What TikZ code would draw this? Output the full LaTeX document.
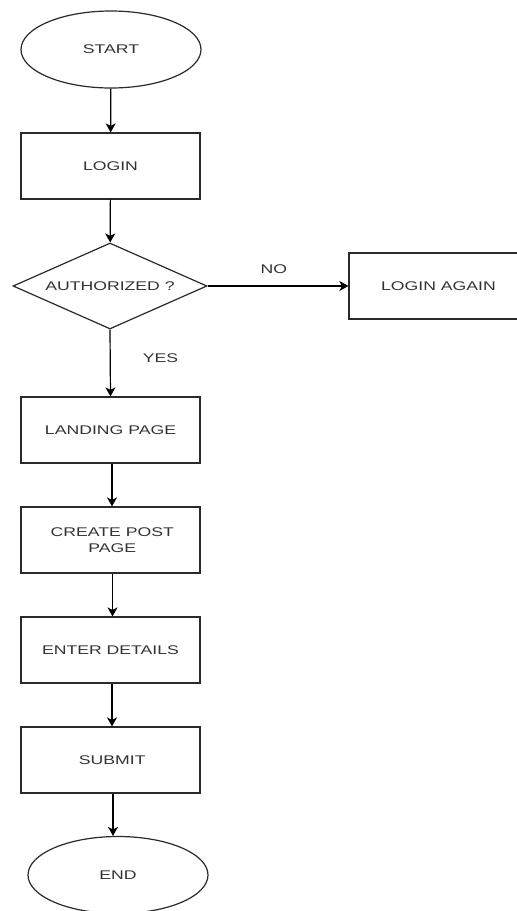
\documentclass[tikz,border=0pt]{standalone}
\usepackage{fontspec}
\usepackage{graphicx}
\setmainfont{Liberation Sans}
\usetikzlibrary{shapes.geometric,arrows.meta}
\definecolor{strokegray}{HTML}{2A2A2A}
\definecolor{textgray}{HTML}{333333}
% wide, slightly stretched caption lettering
\newcommand{\wtext}[1]{\scalebox{1.4}[1]{#1}}
\tikzset{
  base/.style={draw=strokegray, line width=1.2pt, text=textgray,
    font=\fontsize{12.6}{16}\selectfont, inner sep=0pt, align=center},
  stepbox/.style={base, rectangle, minimum width=179pt, minimum height=66pt},
  terminal/.style={base, ellipse, minimum width=180pt, minimum height=77pt},
  decision/.style={base, diamond, aspect=2.26, minimum width=194pt, minimum height=86pt},
  flow/.style={draw=black, line width=1.2pt,
    -{Stealth[length=9pt, width=10pt, inset=2.5pt]}},
  tag/.style={text=textgray, font=\fontsize{12.6}{16}\selectfont, inner sep=0pt}
}
\begin{document}
\begin{tikzpicture}[x=1pt, y=-1pt]
  \clip (0,0) rectangle (517,911);
  \fill[white] (0,0) rectangle (517,911);

  \node[terminal] (start)   at (111,49.5)  {\wtext{START}};
  \node[stepbox]  (login)   at (110.5,166) {\wtext{LOGIN}};
  \node[decision] (auth)    at (110,286)   {\wtext{AUTHORIZED ?}};
  \node[stepbox]  (again)   at (438.5,286) {\wtext{LOGIN AGAIN}};
  \node[stepbox]  (landing) at (110.5,430) {\wtext{LANDING PAGE}};
  \node[stepbox]  (create)  at (110.5,540) {\wtext{\hspace*{2.5pt}CREATE POST}\\\wtext{\hspace*{2.5pt}PAGE}};
  \node[stepbox]  (enter)   at (110.5,650) {\wtext{ENTER DETAILS}};
  \node[stepbox]  (submit)  at (110.5,760) {\wtext{\hspace*{2.5pt}SUBMIT}};
  \node[terminal] (finish)  at (118,875)   {\wtext{END}};

  \draw[flow] (start) -- (login);
  \draw[flow] (login) -- (auth);
  \draw[flow] (auth.east) -- (again.west)
    node[tag, pos=0.47, above=12pt] (no) {\wtext{NO}};
  \draw[flow] (auth.south) -- (landing.north)
    node[tag, pos=0.43, right=32pt] (yes) {\wtext{YES}};
  \draw[flow] ([xshift=1.5pt]landing.south) -- ([xshift=1.5pt]create.north);
  \draw[flow] ([xshift=2pt]create.south) -- ([xshift=2pt]enter.north);
  \draw[flow] ([xshift=1.5pt]enter.south) -- ([xshift=1.5pt]submit.north);
  \draw[flow] ([xshift=2.5pt]submit.south) -- ([xshift=2.5pt]submit.south |- finish.north);
\end{tikzpicture}
\end{document}
